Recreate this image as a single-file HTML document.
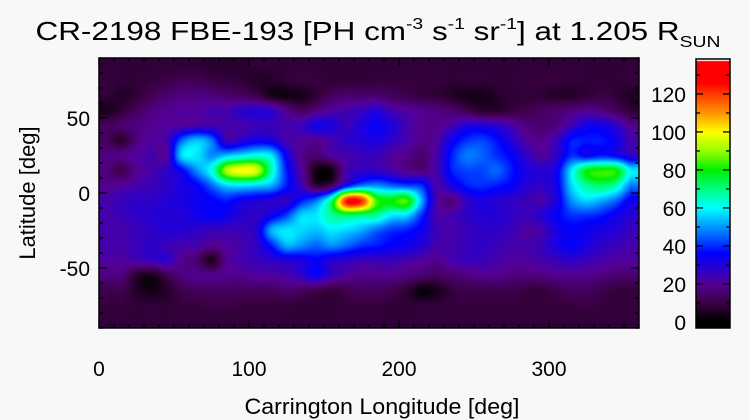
<!DOCTYPE html>
<html><head><meta charset="utf-8"><style>
body{margin:0;background:#f8f8f8;}
#wrap{position:relative;width:750px;height:420px;background:#f8f8f8;font-family:"Liberation Sans",sans-serif;color:#000;overflow:hidden}
canvas{position:absolute}
svg{position:absolute;left:0;top:0}
</style></head><body>
<div id="wrap">
<canvas id="hm" width="540" height="270" style="left:99px;top:58px"></canvas>
<canvas id="cb" width="34" height="269" style="left:696px;top:59px"></canvas>
<svg id="ov" width="750" height="420">
<text x="378" y="40" font-size="26" text-anchor="middle" textLength="685" lengthAdjust="spacingAndGlyphs">CR-2198 FBE-193 [PH cm<tspan font-size="16" dy="-11">-3</tspan><tspan dy="11"> s</tspan><tspan font-size="16" dy="-11">-1</tspan><tspan dy="11"> sr</tspan><tspan font-size="16" dy="-11">-1</tspan><tspan dy="11">] at 1.205 R</tspan><tspan font-size="16" dy="7">SUN</tspan></text>
<text x="382" y="414" font-size="22" text-anchor="middle" textLength="275" lengthAdjust="spacingAndGlyphs">Carrington Longitude [deg]</text>
<text transform="translate(35,193) rotate(-90)" font-size="22" text-anchor="middle">Latitude [deg]</text>
<g id="ticks"></g>
</svg>
</div>
<script>
const lons=[5,15,25,35,45,55,65,75,85,95,105,115,125,135,145,155,165,175,185,195,205,215,225,235,245,255,265,275,285,295,305,315,325,335,345,355];
const lats=[85,75,65,55,45,35,25,15,5,-5,-15,-25,-35,-45,-55,-65,-75,-85];
const xTickLabels=[0,100,200,300];
const yTickLabels=[50,0,-50];
const cbTickLabels=[0,20,40,60,80,100,120];
const row0=[8,8,8,8,8,8,8,7,7,7,8,8,8,8,8,8,8,8,8,8,8,8,8,8,8,8,8,8,8,8,8,8,8,8,8,8];
const row1=[9,8,8,9,10,12,12,10,9,8,6,6,8,9,9,8,8,8,9,9,9,9,9,8,8,8,8,8,9,9,9,9,8,8,8,9];
const row2=[8,6,8,12,15,17,17,17,15,13,11,4,3,4,8,13,15,15,15,13,11,9,8,6,4,4,6,8,8,8,6,6,8,10,8,5];
const row3=[4,8,13,17,19,21,21,23,23,27,29,27,19,13,17,21,23,25,29,23,21,19,17,15,11,7,7,9,11,13,15,17,19,17,13,8];
const row4=[13,15,17,19,21,21,23,23,23,23,25,25,23,25,32,30,25,30,34,30,23,19,19,23,30,30,27,23,17,15,17,25,32,32,27,19];
const row5=[13,7,17,21,23,45,54,47,25,29,33,31,23,21,19,23,27,29,31,27,23,19,21,33,40,42,37,29,21,19,25,38,38,38,33,23];
const row6=[17,19,21,23,21,56,58,49,54,58,62,58,33,19,15,21,23,25,25,21,19,15,23,38,47,45,40,35,27,21,27,40,35,38,35,27];
const row7=[17,11,19,23,27,35,49,62,92,100,96,66,38,21,3,3,23,27,27,23,19,17,23,38,42,42,45,38,31,29,33,58,78,82,80,58];
const row8=[19,21,23,25,27,31,35,45,56,58,56,52,38,25,8,13,35,47,49,45,42,40,23,31,38,40,38,35,29,27,33,56,68,72,66,47];
const row9=[23,25,27,27,29,31,33,35,38,33,31,29,27,38,47,70,124,122,84,80,84,52,23,17,27,31,29,27,25,23,31,49,56,52,45,33];
const row10=[23,25,27,29,29,29,33,35,33,29,27,33,42,56,58,68,72,70,68,58,56,40,23,23,27,29,29,27,25,29,35,40,40,38,33,29];
const row11=[23,23,25,27,29,29,27,25,25,25,29,52,58,56,54,58,56,52,45,40,38,33,25,23,25,27,27,25,21,23,31,35,33,31,29,25];
const row12=[23,23,25,27,25,23,23,19,21,23,27,38,52,49,45,49,45,40,38,35,33,29,23,23,25,27,25,23,23,25,31,35,31,27,25,23];
const row13=[21,21,23,25,27,19,15,5,19,23,25,27,29,31,35,29,27,25,25,25,23,21,19,23,25,25,23,21,21,23,25,27,25,23,21,21];
const row14=[17,17,7,4,11,17,19,19,19,19,21,21,23,27,33,25,21,19,19,19,17,15,13,15,17,19,19,17,17,17,19,19,19,17,15,15];
const row15=[11,11,6,3,6,11,13,13,13,13,13,13,15,13,11,9,11,13,13,11,8,2,4,9,11,11,11,11,9,9,11,13,13,11,9,9];
const row16=[9,9,8,8,8,9,9,10,10,9,9,9,9,8,8,8,9,9,9,8,8,8,8,9,9,9,9,9,9,9,9,9,10,9,9,9];
const row17=[8,8,8,8,8,8,8,8,8,8,8,8,8,8,8,8,8,8,8,8,8,8,8,8,8,8,8,8,8,8,8,8,8,8,8,8];
const grid=[row0,row1,row2,row3,row4,row5,row6,row7,row8,row9,row10,row11,row12,row13,row14,row15,row16,row17];
const vmin=-3.2,vmax=138.4;
const PX0=99,PY0=58,PW=540,PH=270;
const xs=l=>PX0+l/360*PW, ys=b=>PY0+(90-b)/180*PH;
const stops=[[0,0,0,0],[10,60,0,70],[20,85,0,150],[30,30,0,220],[36,0,0,255],[46,0,110,255],[60,0,255,255],[70,0,255,130],[80,0,240,0],[90,150,255,0],[100,255,255,0],[110,255,150,0],[120,255,60,0],[126,255,0,0],[140,255,0,0]];
function cmap(v){if(v<=stops[0][0])return stops[0].slice(1);for(let i=1;i<stops.length;i++){if(v<=stops[i][0]){const a=stops[i-1],b=stops[i],t=(v-a[0])/(b[0]-a[0]);return [a[1]+t*(b[1]-a[1]),a[2]+t*(b[2]-a[2]),a[3]+t*(b[3]-a[3])];}}return stops[stops.length-1].slice(1);}
function cr(p0,p1,p2,p3,t){return 0.5*((2*p1)+(-p0+p2)*t+(2*p0-5*p1+4*p2-p3)*t*t+(-p0+3*p1-3*p2+p3)*t*t*t);}
function G(r,c){const nr=lats.length,nc=lons.length;r=Math.max(0,Math.min(nr-1,r));c=Math.max(0,Math.min(nc-1,c));return grid[r][c];}
function val(lon,lat){
 const nc=lons.length,nr=lats.length;
 let fx=(lon-lons[0])/(lons[1]-lons[0]);let fy=(lats[0]-lat)/(lats[0]-lats[1]);
 fx=Math.max(0,Math.min(nc-1,fx));fy=Math.max(0,Math.min(nr-1,fy));
 const x0=Math.floor(fx),y0=Math.floor(fy),tx=fx-x0,ty=fy-y0;
 const rows=[];for(let k=-1;k<=2;k++){rows.push(cr(G(y0+k,x0-1),G(y0+k,x0),G(y0+k,x0+1),G(y0+k,x0+2),tx));}
 return cr(rows[0],rows[1],rows[2],rows[3],ty);}
const hc=document.getElementById('hm').getContext('2d');
const img=hc.createImageData(PW,PH);
for(let j=0;j<PH;j++)for(let i=0;i<PW;i++){const lon=(i+0.5)/PW*360,lat=90-(j+0.5)/PH*180;const c=cmap(val(lon,lat));const k=(j*PW+i)*4;img.data[k]=c[0];img.data[k+1]=c[1];img.data[k+2]=c[2];img.data[k+3]=255;}
hc.putImageData(img,0,0);
const cc=document.getElementById('cb').getContext('2d');
for(let j=0;j<269;j++){const v=vmax-(j/268)*(vmax-vmin);const c=cmap(v);cc.fillStyle=j<2?'#fff':`rgb(${c[0]|0},${c[1]|0},${c[2]|0})`;cc.fillRect(0,j,34,1);}
const NS='http://www.w3.org/2000/svg';const g=document.getElementById('ticks');
function mk(t,a){const e=document.createElementNS(NS,t);for(const k in a)e.setAttribute(k,a[k]);g.appendChild(e);return e;}
let fr=mk('rect',{x:PX0,y:PY0,width:PW,height:PH,fill:'none',stroke:'#000','stroke-width':1.5});


for(let l=0;l<=360;l+=10){const L=l%100===0?8:4;mk('line',{x1:xs(l),x2:xs(l),y1:PY0+PH,y2:PY0+PH-L,stroke:'#000','stroke-width':1.3});mk('line',{x1:xs(l),x2:xs(l),y1:PY0,y2:PY0+L,stroke:'#000','stroke-width':1.3});}
for(let b=-90;b<=90;b+=10){const L=b%50===0?8:4;mk('line',{x1:PX0,x2:PX0+L,y1:ys(b),y2:ys(b),stroke:'#000','stroke-width':1.3});mk('line',{x1:PX0+PW,x2:PX0+PW-L,y1:ys(b),y2:ys(b),stroke:'#000','stroke-width':1.3});}
xTickLabels.forEach(v=>{const t=mk('text',{x:xs(v),y:376,'font-size':21,'text-anchor':'middle'});t.textContent=v;

});
yTickLabels.forEach(v=>{const t=mk('text',{x:90,y:ys(v)+8,'font-size':21,'text-anchor':'end'});t.textContent=v;

});
const cy=v=>59+(vmax-v)/(vmax-vmin)*269;
let cf=mk('rect',{x:696,y:59,width:34,height:269,fill:'none',stroke:'#000','stroke-width':1.5});


for(let v=0;v<=130;v+=10){const L=v%20===0?7:4;mk('line',{x1:696,x2:696+L,y1:cy(v),y2:cy(v),stroke:'#000','stroke-width':1.3});mk('line',{x1:730,x2:730-L,y1:cy(v),y2:cy(v),stroke:'#000','stroke-width':1.3});}
cbTickLabels.forEach(v=>{const t=mk('text',{x:686,y:cy(v)+8,'font-size':21,'text-anchor':'end'});t.textContent=v;

});
</script>
</body></html>
